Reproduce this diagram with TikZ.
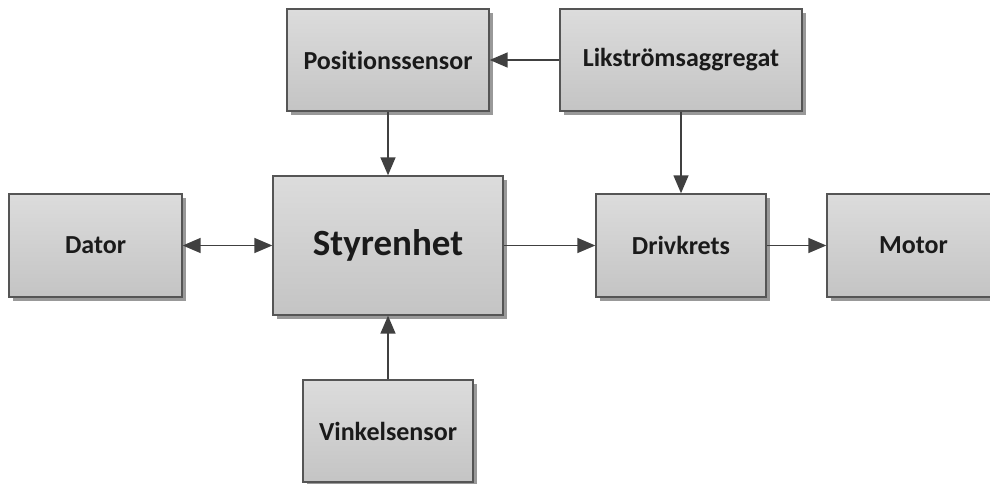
\documentclass[tikz,border=0pt]{standalone}
\usepackage{fontspec}
\setmainfont{Carlito}[Ligatures={NoCommon}]
\usetikzlibrary{arrows.meta,shadows}
\definecolor{boxtop}{HTML}{DCDCDC}
\definecolor{boxbot}{HTML}{C4C4C4}
\definecolor{boxline}{HTML}{555555}
\definecolor{arrowc}{HTML}{404040}
\definecolor{txt}{HTML}{1A1A1A}
\tikzset{
  blockbox/.style={draw=boxline, line width=1.4pt, top color=boxtop, bottom color=boxbot,
    drop shadow={shadow xshift=4pt, shadow yshift=-4pt, fill=black, opacity=0.4},
    text=txt, font=\fontsize{26}{30}\selectfont\bfseries, inner sep=0pt, align=center},
  tipc/.tip={Triangle[length=18pt,width=15pt]},
  conn/.style={draw=arrowc, line width=1.5pt, -tipc},
  bconn/.style={draw=arrowc, line width=1.5pt, tipc-tipc}
}
\begin{document}
\begin{tikzpicture}[x=1pt,y=-1pt]
\useasboundingbox (0,0) rectangle (990,484);
\clip (0,0) rectangle (990,484);
\node[blockbox, minimum width=202pt, minimum height=102pt] (pos) at (388,60) {Positionssensor};
\node[blockbox, minimum width=242pt, minimum height=102pt] (lik) at (681,60) {Likströmsaggregat};
\node[blockbox, minimum width=173pt, minimum height=103pt] (dator) at (95.5,245.5) {Dator};
\node[blockbox, minimum width=230pt, minimum height=139pt, font=\fontsize{37}{42}\selectfont\bfseries] (sty) at (388,245.5) {Styrenhet};
\node[blockbox, minimum width=170pt, minimum height=103pt] (driv) at (681,245.5) {Drivkrets};
\node[blockbox, minimum width=173pt, minimum height=103pt] (motor) at (913.5,245.5) {Motor};
\node[blockbox, minimum width=170pt, minimum height=102pt] (vink) at (388,431) {Vinkelsensor};
\draw[conn] (lik.west) -- (pos.east);
\draw[conn] (pos.south) -- (sty.north);
\draw[conn] (lik.south) -- (driv.north);
\draw[bconn] (dator.east) -- (sty.west);
\draw[conn] (sty.east) -- (driv.west);
\draw[conn] (driv.east) -- (motor.west);
\draw[conn] (vink.north) -- (sty.south);
\end{tikzpicture}
\end{document}
